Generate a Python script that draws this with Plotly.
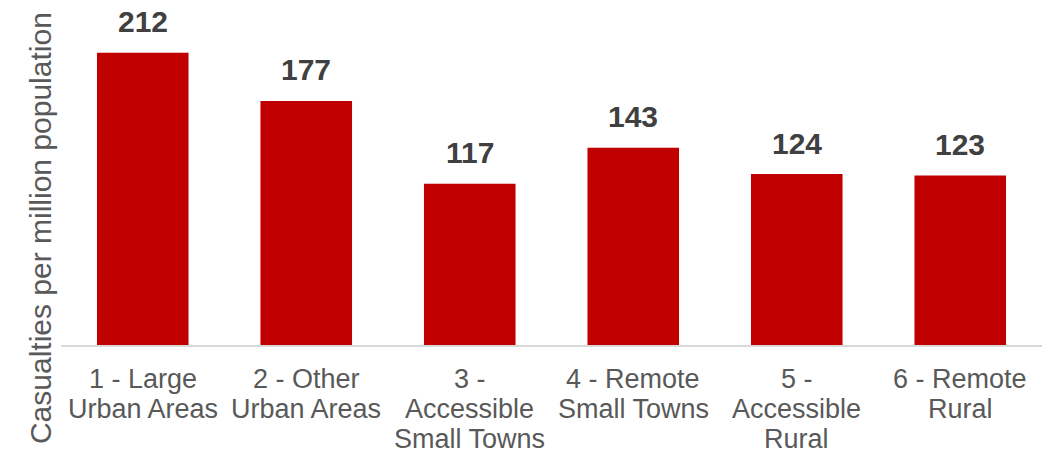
import plotly.graph_objects as go

categories = [
    "1 - Large<br>Urban Areas",
    "2 - Other<br>Urban Areas",
    "3 -<br>Accessible<br>Small Towns",
    "4 - Remote<br>Small Towns",
    "5 -<br>Accessible<br>Rural",
    "6 - Remote<br>Rural",
]
values = [212, 177, 117, 143, 124, 123]
y_title = "Casualties per million population"

FONT = "Liberation Sans, Arial, sans-serif"

fig = go.Figure()
fig.add_trace(go.Bar(
    x=categories, y=values,
    marker=dict(color="#C00000", line=dict(width=0)),
    hoverinfo="skip",
))

# value labels above the bars
for c, v in zip(categories, values):
    fig.add_annotation(
        x=c, y=v, text=f"<b>{v}</b>", showarrow=False,
        yanchor="middle", yshift=31,
        font=dict(family=FONT, size=30, color="#404040"),
    )

# category labels, one annotation per line for tighter line spacing
for c in categories:
    for i, line in enumerate(c.split("<br>")):
        fig.add_annotation(
            x=c, y=0, text=line, showarrow=False,
            xanchor="center", yanchor="middle",
            yshift=-(34 + 30 * i),
            font=dict(family=FONT, size=27, color="#595959"),
        )

# y-axis title, centred on the whole chart height as in the reference
fig.add_annotation(
    xref="paper", yref="paper", x=0, y=0.349, xshift=-21,
    text=y_title, textangle=-90, showarrow=False,
    xanchor="center", yanchor="middle",
    font=dict(family=FONT, size=30, color="#595959"),
)

# page body adds an 8px offset, so the figure is sized to fit the window
fig.update_layout(
    width=1045, height=445,
    margin=dict(l=53, r=11, t=2, b=108),
    paper_bgcolor="white", plot_bgcolor="white",
    bargap=0.44,
    showlegend=False,
    font=dict(family=FONT, size=27, color="#595959"),
)
fig.update_xaxes(
    showline=True, linecolor="#d9d9d9", linewidth=2,
    ticks="", showticklabels=False,
    showgrid=False, automargin=False,
)
fig.update_yaxes(
    range=[0, 243], showticklabels=False, showgrid=False, zeroline=False,
    automargin=False,
)

fig.write_html("out.html")
